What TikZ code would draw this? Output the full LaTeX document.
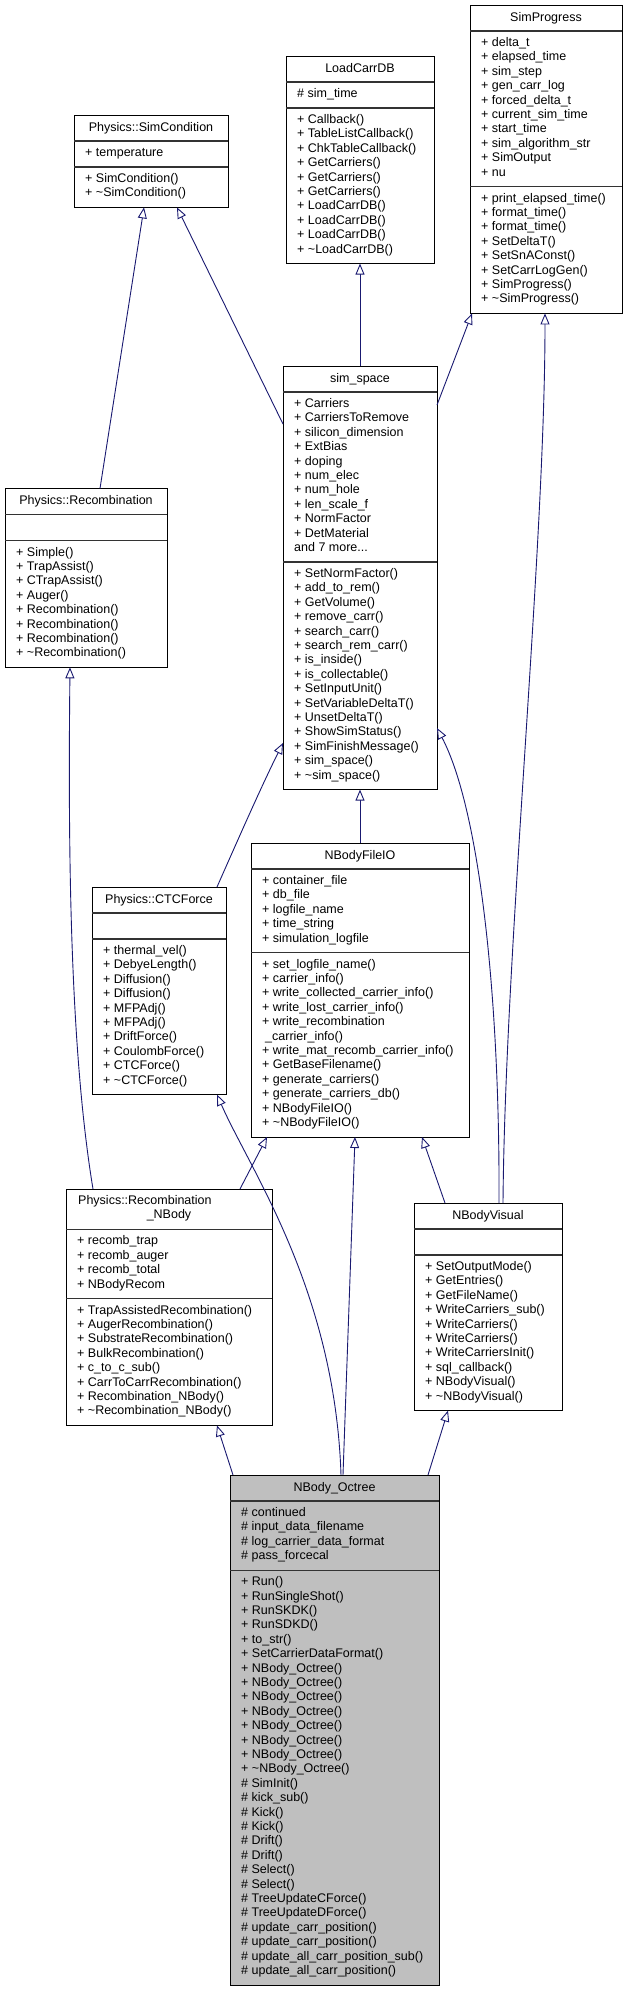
\documentclass[tikz,border=0pt]{standalone}
\usepackage{fontspec}
\setmainfont{Liberation Sans}
\usetikzlibrary{arrows.meta,calc}
\definecolor{edgeblue}{HTML}{191970}
\definecolor{octfill}{HTML}{BFBFBF}
\tikzset{
  cls/.style={draw=black, line width=0.9pt, inner sep=0pt, outer sep=0pt, anchor=north west},
  divider/.style={draw=black!80, line width=1.1pt},
  txt/.style={inner sep=0pt, anchor=base west, font=\fontsize{12.5}{14.4}\selectfont},
  ttl/.style={inner sep=0pt, anchor=base, font=\fontsize{12.5}{14.4}\selectfont},
  inh/.style={draw=edgeblue, line width=0.9pt, -{Triangle[open, length=11pt, width=9pt, fill=white]}},
}
% #1 name, #2 x1, #3 x2, #4 top, #5 title sep, #6 attr sep, #7 bottom, #8 style
\newcommand\classbox[8]{%
  \node[cls, #8, minimum width=#3-#2, minimum height=#7-#4] (#1) at (#2,#4) {};
  \draw[divider] (#2,#5) -- (#3,#5);
  \draw[divider] (#2,#6) -- (#3,#6);
}
% #1 name prefix, #2 x, #3 first baseline, #4 list
\newcommand\members[4]{%
  \foreach \m [count=\i from 0] in {#4} {
    \node[txt, name=#1\i] at (#2, #3+\i*14.4) {\m};
  }
}
\begin{document}
\begin{tikzpicture}[x=1pt, y=-1pt]
\useasboundingbox (0,0) rectangle (626,1997);

% SimProgress
\classbox{sp}{470}{622}{5}{31}{186.6}{313.4}{fill=white}
\node[ttl, name=spT] at (546,21) {SimProgress};
\members{spa}{481}{46.5}{+ delta\_t, + elapsed\_time, + sim\_step, + gen\_carr\_log, + forced\_delta\_t, + current\_sim\_time, + start\_time, + sim\_algorithm\_str, + SimOutput, + nu}
\members{spm}{481}{202.1}{+ print\_elapsed\_time(), + format\_time(), + format\_time(), + SetDeltaT(), + SetSnAConst(), + SetCarrLogGen(), + SimProgress(), + \textasciitilde{}SimProgress()}

% LoadCarrDB
\classbox{lc}{286}{434}{56}{82}{108}{263.6}{fill=white}
\node[ttl, name=lcT] at (360,72) {LoadCarrDB};
\members{lca}{297}{97.5}{\# sim\_time}
\members{lcm}{297}{123.5}{+ Callback(), + TableListCallback(), + ChkTableCallback(), + GetCarriers(), + GetCarriers(), + GetCarriers(), + LoadCarrDB(), + LoadCarrDB(), + LoadCarrDB(), + \textasciitilde{}LoadCarrDB()}

% Physics::SimCondition
\classbox{sc}{74}{228}{115}{141}{167}{207.4}{fill=white}
\node[ttl, name=scT] at (151,131) {Physics::SimCondition};
\members{sca}{85}{156.5}{+ temperature}
\members{scm}{85}{182.5}{+ SimCondition(), + \textasciitilde{}SimCondition()}

% sim_space
\classbox{ss}{283}{437}{366}{392}{562}{789.6}{fill=white}
\node[ttl, name=ssT] at (360,382) {sim\_space};
\members{ssa}{294}{407.5}{+ Carriers, + CarriersToRemove, + silicon\_dimension, + ExtBias, + doping, + num\_elec, + num\_hole, + len\_scale\_f, + NormFactor, + DetMaterial, {and 7 more{...}}}
\members{ssm}{294}{577.5}{+ SetNormFactor(), + add\_to\_rem(), + GetVolume(), + remove\_carr(), + search\_carr(), + search\_rem\_carr(), + is\_inside(), + is\_collectable(), + SetInputUnit(), + SetVariableDeltaT(), + UnsetDeltaT(), + ShowSimStatus(), + SimFinishMessage(), + sim\_space(), + \textasciitilde{}sim\_space()}

% Physics::Recombination
\classbox{rc}{5}{167}{488.5}{514.5}{540.5}{667.3}{fill=white}
\node[ttl, name=rcT] at (86,504.5) {Physics::Recombination};
\members{rcm}{16}{556}{+ Simple(), + TrapAssist(), + CTrapAssist(), + Auger(), + Recombination(), + Recombination(), + Recombination(), + \textasciitilde{}Recombination()}

% Physics::CTCForce
\classbox{ct}{92}{226}{887}{913}{939}{1094.6}{fill=white}
\node[ttl, name=ctT] at (159,903) {Physics::CTCForce};
\members{ctm}{103}{954.5}{+ thermal\_vel(), + DebyeLength(), + Diffusion(), + Diffusion(), + MFPAdj(), + MFPAdj(), + DriftForce(), + CoulombForce(), + CTCForce(), + \textasciitilde{}CTCForce()}

% NBodyFileIO
\classbox{fio}{251}{469}{843}{869}{952.6}{1137}{fill=white}
\node[ttl, name=fioT] at (360,859) {NBodyFileIO};
\members{fioa}{262}{884.5}{+ container\_file, + db\_file, + logfile\_name, + time\_string, + simulation\_logfile}
\members{fiom}{262}{968.1}{+ set\_logfile\_name(), + carrier\_info(), + write\_collected\_carrier\_info(), + write\_lost\_carrier\_info(), + write\_recombination, \kern3pt\_carrier\_info(), + write\_mat\_recomb\_carrier\_info(), + GetBaseFilename(), + generate\_carriers(), + generate\_carriers\_db(), + NBodyFileIO(), + \textasciitilde{}NBodyFileIO()}

% Physics::Recombination_NBody
\classbox{rn}{66}{272}{1189}{1229.4}{1298.6}{1425.4}{fill=white}
\node[txt, name=rnT1] at (78,1204.5) {Physics::Recombination};
\node[ttl, name=rnT2] at (169,1218.9) {\_NBody};
\members{rna}{77}{1244.9}{+ recomb\_trap, + recomb\_auger, + recomb\_total, + NBodyRecom}
\members{rnm}{77}{1314.1}{+ TrapAssistedRecombination(), + AugerRecombination(), + SubstrateRecombination(), + BulkRecombination(), + c\_to\_c\_sub(), + CarrToCarrRecombination(), + Recombination\_NBody(), + \textasciitilde{}Recombination\_NBody()}

% NBodyVisual
\classbox{nv}{414}{562}{1203}{1229}{1255}{1410.6}{fill=white}
\node[ttl, name=nvT] at (488,1219) {NBodyVisual};
\members{nvm}{425}{1270.5}{+ SetOutputMode(), + GetEntries(), + GetFileName(), + WriteCarriers\_sub(), + WriteCarriers(), + WriteCarriers(), + WriteCarriersInit(), + sql\_callback(), + NBodyVisual(), + \textasciitilde{}NBodyVisual()}

% NBody_Octree
\classbox{oc}{230}{439}{1475}{1501}{1570.2}{1985}{fill=octfill}
\node[ttl, name=ocT] at (334.5,1491) {NBody\_Octree};
\members{oca}{241}{1516.5}{\# continued, \# input\_data\_filename, \# log\_carrier\_data\_format, \# pass\_forcecal}
\members{ocm}{241}{1585.7}{+ Run(), + RunSingleShot(), + RunSKDK(), + RunSDKD(), + to\_str(), + SetCarrierDataFormat(), + NBody\_Octree(), + NBody\_Octree(), + NBody\_Octree(), + NBody\_Octree(), + NBody\_Octree(), + NBody\_Octree(), + NBody\_Octree(), + \textasciitilde{}NBody\_Octree(), \# SimInit(), \# kick\_sub(), \# Kick(), \# Kick(), \# Drift(), \# Drift(), \# Select(), \# Select(), \# TreeUpdateCForce(), \# TreeUpdateDForce(), \# update\_carr\_position(), \# update\_carr\_position(), \# update\_all\_carr\_position\_sub(), \# update\_all\_carr\_position()}

% Inheritance edges (derived -> base)
\draw[inh] ([xshift=95pt]rc.north west) -- ([xshift=70pt]sc.south west);
\draw[inh] ([yshift=-58pt]ss.north west) -- ([xshift=103pt]sc.south west);
\draw[inh] (ss.north) -- (lc.south);
\draw[inh] ([yshift=-39pt]ss.north east) -- ([xshift=2pt]sp.south west);
\draw[inh] ([xshift=89pt]nv.north west) .. controls (505,950) and (545,550) .. ([xshift=75pt]sp.south west);
\draw[inh] (fio.north) -- (ss.south);
\draw[inh] ([xshift=125pt]ct.north west) .. controls (240,835) and (262,785) .. ([yshift=-377pt]ss.north west);
\draw[inh] ([xshift=85pt]nv.north west) .. controls (500,1000) and (480,810) .. ([yshift=-362pt]ss.north east);
\draw[inh] ([xshift=31pt]nv.north west) -- ([xshift=171pt]fio.south west);
\draw[inh] ([xshift=174pt]rn.north west) -- ([xshift=16pt]fio.south west);
\draw[inh] ([xshift=27pt]rn.north west) .. controls (70,1050) and (68,850) .. ([xshift=65pt]rc.south west);
\draw[inh] ([xshift=3pt]oc.north west) -- ([xshift=151pt]rn.south west);
\draw[inh] ([xshift=113pt]oc.north west) -- ([xshift=104pt]fio.south west);
\draw[inh] ([xshift=198pt]oc.north west) -- ([xshift=34pt]nv.south west);
\draw[inh] ([xshift=111pt]oc.north west) .. controls (335,1290) and (250,1170) .. ([xshift=125pt]ct.south west);
\end{tikzpicture}
\end{document}
